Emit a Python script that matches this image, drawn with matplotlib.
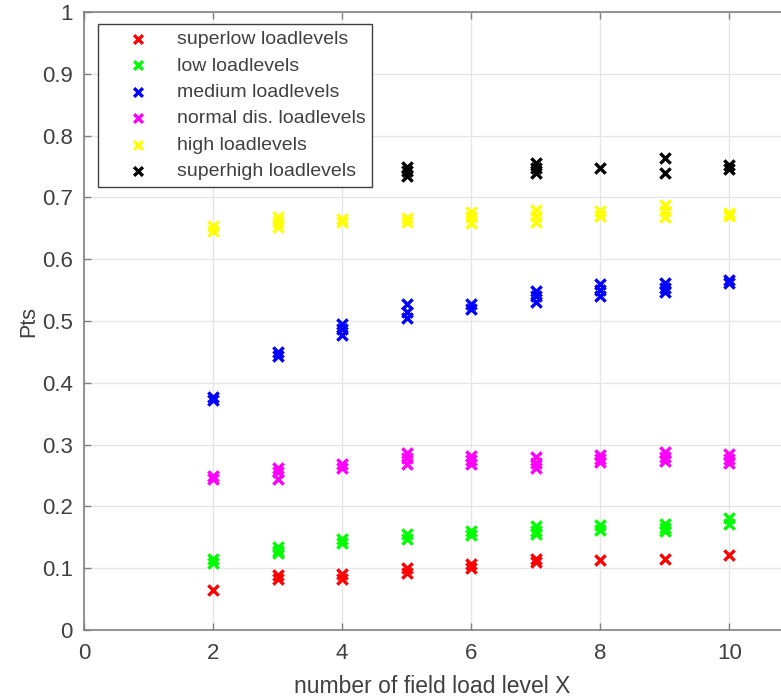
import matplotlib.pyplot as plt

# readings per load level (several trials at each x)
x_superlow = [2, 3, 3, 4, 4, 5, 5, 6, 6, 7, 7, 8, 9, 10]
y_superlow = [0.065, 0.089, 0.083, 0.090, 0.082, 0.100, 0.093, 0.107, 0.100,
              0.115, 0.110, 0.113, 0.115, 0.121]

x_low = [2, 2, 3, 3, 3, 4, 4, 5, 5, 6, 6, 7, 7, 7, 8, 8, 9, 9, 9, 10, 10]
y_low = [0.115, 0.108, 0.135, 0.128, 0.125, 0.148, 0.140, 0.155, 0.147,
         0.160, 0.153, 0.168, 0.160, 0.155, 0.170, 0.162, 0.172, 0.165, 0.160,
         0.182, 0.172]

x_medium = [2, 2, 3, 3, 4, 4, 4, 5, 5, 5, 6, 6, 7, 7, 7, 8, 8, 8, 9, 9, 9, 10, 10]
y_medium = [0.377, 0.372, 0.450, 0.443, 0.495, 0.487, 0.478, 0.527, 0.515, 0.505,
            0.528, 0.520, 0.548, 0.540, 0.530, 0.560, 0.550, 0.540, 0.562, 0.553,
            0.547, 0.567, 0.562]

x_normal = [2, 2, 3, 3, 3, 4, 4, 5, 5, 5, 6, 6, 6, 7, 7, 7, 8, 8, 8, 9, 9, 9, 10, 10, 10]
y_normal = [0.250, 0.245, 0.262, 0.255, 0.245, 0.268, 0.262, 0.287, 0.278, 0.268,
            0.282, 0.275, 0.268, 0.280, 0.270, 0.262, 0.283, 0.277, 0.272,
            0.288, 0.280, 0.273, 0.285, 0.277, 0.270]

x_high = [2, 2, 3, 3, 3, 4, 4, 5, 5, 6, 6, 6, 7, 7, 7, 8, 8, 9, 9, 9, 10, 10]
y_high = [0.653, 0.645, 0.668, 0.660, 0.652, 0.665, 0.660, 0.667, 0.660,
          0.677, 0.668, 0.658, 0.680, 0.670, 0.660, 0.678, 0.670,
          0.688, 0.678, 0.668, 0.675, 0.670]

x_superhigh = [5, 5, 5, 7, 7, 7, 8, 9, 9, 10, 10]
y_superhigh = [0.750, 0.743, 0.735, 0.755, 0.748, 0.740, 0.748, 0.763, 0.740,
               0.752, 0.746]

series = [
    (x_superlow, y_superlow, (1, 0, 0), "superlow loadlevels"),
    (x_low, y_low, (0, 1, 0), "low loadlevels"),
    (x_medium, y_medium, (0, 0, 1), "medium loadlevels"),
    (x_normal, y_normal, (1, 0, 1), "normal dis. loadlevels"),
    (x_high, y_high, (1, 1, 0), "high loadlevels"),
    (x_superhigh, y_superhigh, (0, 0, 0), "superhigh loadlevels"),
]

plt.rcParams["font.family"] = ["Liberation Sans", "DejaVu Sans"]
cinza = "#404040"

fig = plt.figure(figsize=(7.81, 6.98), dpi=100)
# a imagem original esta recortada a direita: o eixo termina na borda
ax = fig.add_axes([0.1076, 0.0974, 0.8924, 0.8854])

for xs, ys, cor, nome in series:
    ax.scatter(xs, ys, marker="x", s=55, linewidths=2.4, color=cor, label=nome, zorder=3)

ax.set_xlim(0, 10.8)
ax.set_ylim(0, 1)
ax.set_xticks(range(0, 11, 2))
ax.set_yticks([i / 10 for i in range(11)])
ax.set_yticklabels(["0"] + [f"{i / 10:g}" for i in range(1, 10)] + ["1"])

ax.grid(True, color="#e6e6e6", linewidth=1)
ax.set_axisbelow(True)
for lado in ax.spines.values():
    lado.set_color("#808080")
    lado.set_linewidth(1.2)
ax.spines["right"].set_visible(False)
ax.tick_params(direction="in", length=5, width=1, colors="#808080",
               labelcolor=cinza, labelsize=16, top=True, right=False)
ax.tick_params(axis="y", pad=8)
ax.tick_params(axis="x", pad=9)

ax.set_xlabel("number of field load level X", fontsize=16.5, color=cinza, labelpad=8)
ax.set_ylabel("Pts", fontsize=15.5, color=cinza, labelpad=2)

leg = ax.legend(loc="upper left", bbox_to_anchor=(0.02, 0.981), borderaxespad=0,
                fontsize=14, fancybox=False, framealpha=1, edgecolor=cinza,
                handletextpad=0.3, labelspacing=0.45, borderpad=0.35,
                handlelength=3.4, scatterpoints=1, markerscale=0.85)
leg.get_frame().set_linewidth(1)
for t in leg.get_texts():
    t.set_color(cinza)

fig.savefig("out.png", dpi=100)
